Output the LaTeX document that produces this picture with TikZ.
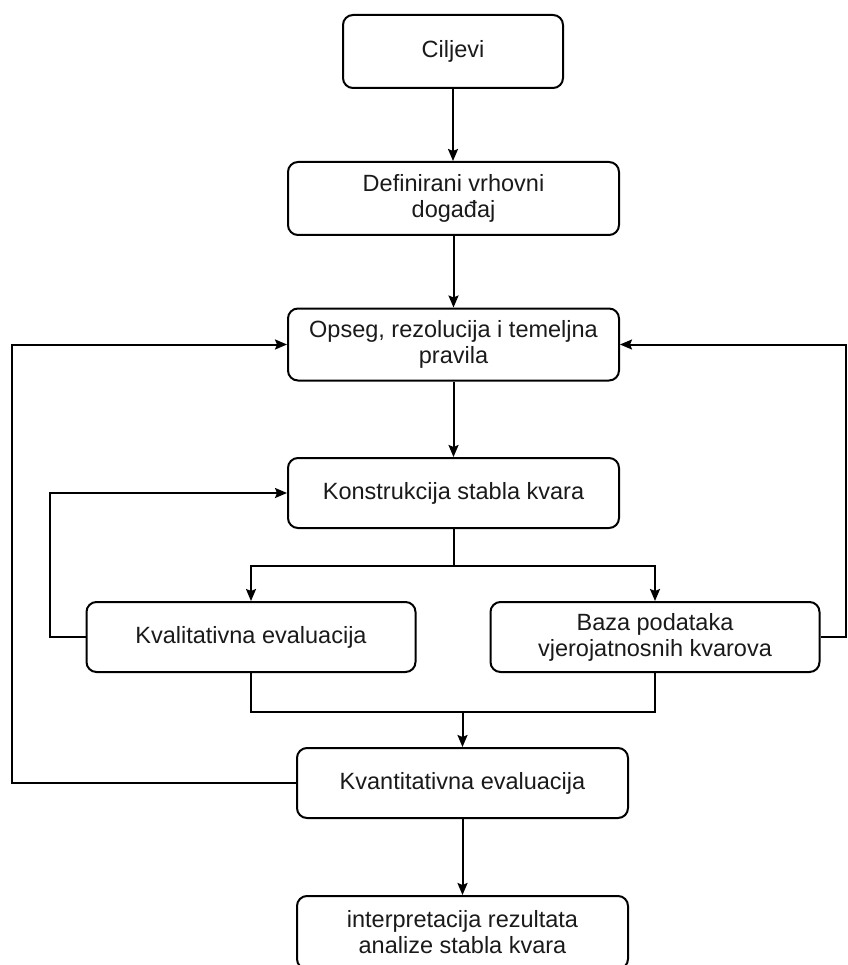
\documentclass[tikz,border=0pt]{standalone}
\usepackage{fontspec}
\setmainfont{Liberation Sans}
\usetikzlibrary{arrows.meta}
\definecolor{txt}{HTML}{1A1A1A}
\begin{document}
\begin{tikzpicture}[x=1pt,y=-1pt,
  box/.style={draw=black, line width=2pt, rounded corners=10pt, fill=white,
    align=center, text=txt, font=\fontsize{23.5}{26}\selectfont, inner sep=0pt},
  conn/.style={line width=2pt, draw=black},
  arr/.style={conn, -{Stealth[length=12pt,width=10pt,inset=2pt]}}]
\useasboundingbox (0,0) rectangle (847,965);
\node[box, minimum width=220pt, minimum height=73pt] (c) at (453,51.5) {Ciljevi};
\node[box, minimum width=331pt, minimum height=73pt] (d) at (453.5,198.5) {Definirani vrhovni\\događaj};
\node[box, minimum width=331pt, minimum height=72pt] (o) at (453.5,344.5) {Opseg, rezolucija i temeljna\\pravila};
\node[box, minimum width=331pt, minimum height=70pt] (k) at (453.5,493) {Konstrukcija stabla kvara};
\node[box, minimum width=329pt, minimum height=70pt] (kl) at (251,637) {Kvalitativna evaluacija};
\node[box, minimum width=329pt, minimum height=70pt] (bz) at (655,637) {Baza podataka\\vjerojatnosnih kvarova};
\node[box, minimum width=331pt, minimum height=70pt] (kv) at (462.5,783) {Kvantitativna evaluacija};
\node[box, minimum width=331pt, minimum height=73pt] (ip) at (462.5,932.5) {interpretacija rezultata\\analize stabla kvara};
\coordinate (sp) at (0,566);
\coordinate (mg) at (0,712);
\coordinate (lx) at (50,0);
\coordinate (ox) at (12,0);
\coordinate (rx) at (846,0);
\draw[arr] (c.south) -- (c.south |- d.north);
\draw[arr] (d.south) -- (o.north);
\draw[arr] (o.south) -- (k.north);
\draw[arr] (k.south) -- (k.south |- sp) -| (kl.north);
\draw[arr] (k.south |- sp) -| (bz.north);
\draw[conn] (kl.south) |- (bz.south |- mg) -- (bz.south);
\draw[arr] (kv.north |- mg) -- (kv.north);
\draw[arr] (kl.west) -- (kl.west -| lx) |- (k.west);
\draw[arr] (kv.west) -- (kv.west -| ox) |- (o.west);
\draw[arr] (bz.east) -- (bz.east -| rx) |- (o.east);
\draw[arr] (kv.south) -- (ip.north);
\end{tikzpicture}
\end{document}
